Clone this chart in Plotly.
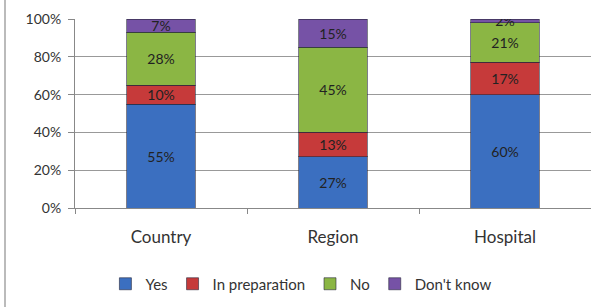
import plotly.graph_objects as go

categories = ["Country", "Region", "Hospital"]
yes = [55, 27, 60]
in_prep = [10, 13, 17]
no = [28, 45, 21]
dont_know = [7, 15, 2]

series = [
    ("Yes", yes, "#3b6fc0"),
    ("In preparation", in_prep, "#c63a3a"),
    ("No", no, "#8bb644"),
    ("Don't know", dont_know, "#7652a6"),
]

FONT = "Lato"

fig = go.Figure()
for name, vals, color in series:
    fig.add_trace(go.Bar(
        x=categories, y=vals, name=name,
        marker=dict(color=color, line=dict(color="rgba(40,40,60,0.6)", width=1)),
        text=[f"{v}%" for v in vals], textposition="inside", insidetextanchor="middle",
        textfont=dict(color="#222222", size=14, family=FONT),
        constraintext="none",
    ))

fig.update_layout(
    barmode="stack",
    bargap=0.6,
    width=591, height=307,
    margin=dict(l=75, r=0, t=19, b=99, autoexpand=False),
    plot_bgcolor="white", paper_bgcolor="white",
    font=dict(family=FONT, size=13, color="#222222"),
    showlegend=True,
    legend=dict(orientation="h", x=0.51, xref="container", xanchor="center",
                y=(307 - 284) / 307, yref="container", yanchor="middle",
                font=dict(size=15, color="#333333"), itemwidth=30, traceorder="normal"),
    shapes=[dict(type="line", xref="paper", yref="paper",
                 x0=(5 - 75) / 516, x1=(5 - 75) / 516, y0=-99 / 189, y1=1 + 19 / 189,
                 line=dict(color="#bbbbbb", width=2))],
)
fig.update_yaxes(range=[0, 100], tickvals=[0, 20, 40, 60, 80, 100],
                 ticktext=["0%", "20%", "40%", "60%", "80%", "100%"],
                 showgrid=True, gridcolor="#999999", gridwidth=1, automargin=False,
                 showline=True, linecolor="#888888", ticks="outside", ticklen=6,
                 tickcolor="#888888", tickfont=dict(size=14, color="#333333"),
                 ticklabelstandoff=4, zeroline=False)
fig.update_xaxes(showline=True, linecolor="#888888", ticks="outside", tickson="boundaries",
                 ticklen=5, tickcolor="#888888", tickfont=dict(size=17, color="#333333"),
                 ticklabelstandoff=14, automargin=False)

fig.write_html("out.html", config={"displayModeBar": False},
               post_script="document.body.style.margin='0';document.body.style.overflow='hidden';")
